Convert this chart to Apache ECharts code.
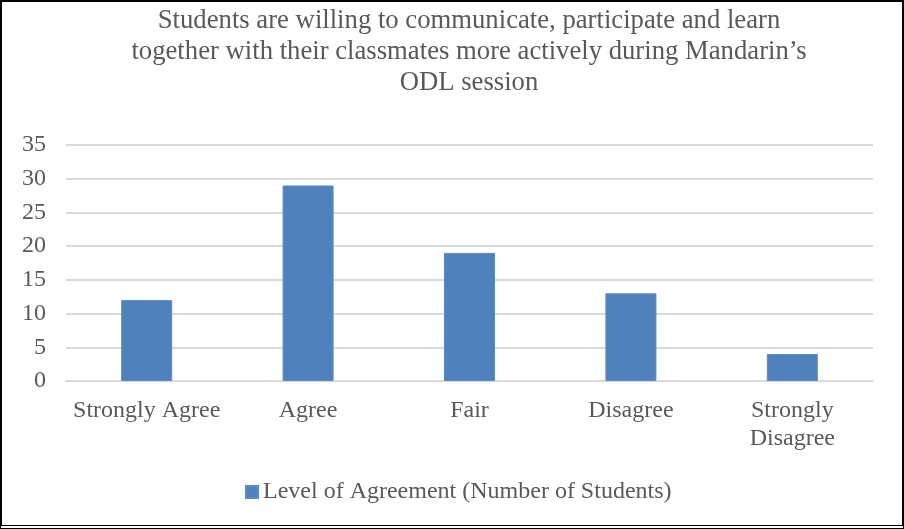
<!DOCTYPE html>
<html>
<head>
<meta charset="utf-8">
<script src="https://cdn.jsdelivr.net/npm/echarts@6/dist/echarts.min.js"></script>
<style>
  html, body { margin: 0; padding: 0; background: #fff; }
  #frame { width: 904px; height: 529px; box-sizing: border-box; border: 2px solid #000; border-bottom: 4px double #000; }
  #chart { width: 100%; height: 100%; }
</style>
</head>
<body>
<div id="frame"><div id="chart"></div></div>
<script>
// Survey responses per agreement level
const categories = ['Strongly Agree', 'Agree', 'Fair', 'Disagree', 'Strongly\nDisagree'];
const students = [12, 29, 19, 13, 4];
const seriesName = 'Level of Agreement (Number of Students)';
const titleText = 'Students are willing to communicate, participate and learn\ntogether with their classmates more actively during Mandarin\u2019s\nODL session';

const serif = '"Liberation Serif", "Times New Roman", serif';
const textGray = '#595959';

const chart = echarts.init(document.getElementById('chart'), null, { renderer: 'canvas' });
chart.setOption({
  animation: false,
  title: {
    text: titleText,
    left: 467,
    top: 4,
    padding: 0,
    textAlign: 'center',
    textStyle: { fontFamily: serif, fontSize: 26.7, fontWeight: 'normal', color: textGray, lineHeight: 30.8 }
  },
  legend: {
    data: [seriesName],
    top: 473,
    left: 238,
    icon: 'rect',
    itemWidth: 12,
    itemHeight: 12,
    textStyle: { fontFamily: serif, fontSize: 24, color: textGray }
  },
  grid: { left: 64, right: 29, top: 143, bottom: 144, containLabel: false },
  xAxis: {
    type: 'category',
    data: categories,
    axisLine: { lineStyle: { color: '#d9d9d9', width: 2 } },
    axisTick: { show: false },
    axisLabel: { fontFamily: serif, fontSize: 24, color: textGray, margin: 16, lineHeight: 28, interval: 0 }
  },
  yAxis: {
    type: 'value',
    min: 0,
    max: 35,
    interval: 5,
    axisLine: { show: false },
    axisTick: { show: false },
    splitLine: { lineStyle: { color: '#d9d9d9', width: 2 } },
    axisLabel: { fontFamily: serif, fontSize: 24, color: textGray, margin: 20 }
  },
  series: [{
    name: seriesName,
    type: 'bar',
    data: students,
    barWidth: '31.6%',
    itemStyle: { color: '#4F81BD', borderColor: '#5b8ac4', borderWidth: 1 }
  }]
});
</script>
</body>
</html>
